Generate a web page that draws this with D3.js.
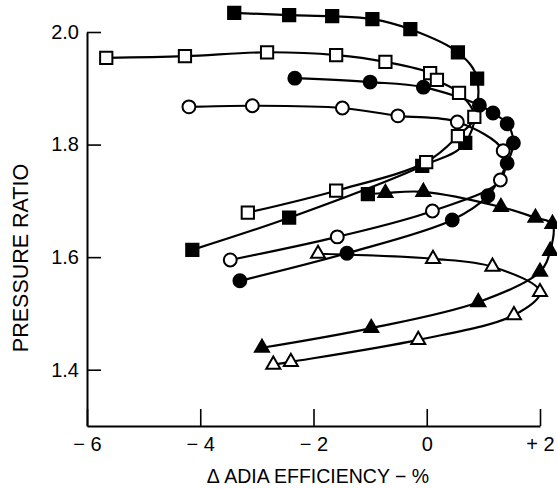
<!DOCTYPE html>
<html>
<head>
<meta charset="utf-8">
<script src="https://cdn.jsdelivr.net/npm/d3@7"></script>
<style>
  html, body { margin: 0; padding: 0; background: #fff; }
  svg { display: block; }
  text { font-family: "Liberation Sans", Arial, sans-serif; fill: #000; }
</style>
</head>
<body>
<svg id="chart" width="557" height="489"></svg>
<script>
// ---- Data (Δ adiabatic efficiency %, pressure ratio) ----
const xTicks = [-6, -4, -2, 0, 2];
const yTicks = [1.4, 1.6, 1.8, 2.0];

const filledSquareX = [-3.40, -2.43, -1.67, -0.96, -0.29, 0.55, 0.89, 0.68, -0.08, -2.43, -4.14];
const filledSquareY = [2.034, 2.030, 2.028, 2.023, 2.005, 1.964, 1.917, 1.803, 1.762, 1.670, 1.613];

const openSquareX = [-5.66, -4.27, -2.82, -1.60, -0.73, 0.06, 0.18, 0.57, 0.84, 0.55, -0.01, -1.60, -3.16];
const openSquareY = [1.954, 1.957, 1.964, 1.959, 1.947, 1.927, 1.915, 1.892, 1.849, 1.815, 1.769, 1.718, 1.679];

const filledCircleX = [-2.33, -1.00, -0.06, 0.93, 1.17, 1.42, 1.53, 1.42, 1.08, 0.45, -1.41, -3.30];
const filledCircleY = [1.918, 1.911, 1.902, 1.870, 1.856, 1.837, 1.803, 1.767, 1.709, 1.666, 1.607, 1.558];

const openCircleX = [-4.20, -3.08, -1.49, -0.51, 0.54, 1.35, 1.30, 0.10, -1.58, -3.47];
const openCircleY = [1.867, 1.869, 1.865, 1.851, 1.840, 1.789, 1.737, 1.682, 1.636, 1.595];

// first point of this curve is plotted with a filled square in the original
const filledTriangleX = [-1.04, -0.73, -0.06, 1.31, 1.92, 2.22, 2.18, 2.00, 0.91, -0.98, -2.91];
const filledTriangleY = [1.712, 1.714, 1.716, 1.689, 1.670, 1.659, 1.611, 1.574, 1.520, 1.474, 1.439];

const openTriangleX = [-1.92, 0.11, 1.16, 2.00, 1.54, -0.15, -2.40, -2.71];
const openTriangleY = [1.606, 1.597, 1.583, 1.538, 1.497, 1.453, 1.414, 1.409];

// ---- Layout ----
const svg = d3.select("#chart");
const x = d3.scaleLinear().domain([-6, 2]).range([87, 540]);
const y = d3.scaleLinear().domain([1.3, 2.0]).range([426, 32]);

const series = [
  { xs: filledSquareX, ys: filledSquareY, shape: "square", filled: true },
  { xs: openSquareX, ys: openSquareY, shape: "square", filled: false },
  { xs: filledCircleX, ys: filledCircleY, shape: "circle", filled: true },
  { xs: openCircleX, ys: openCircleY, shape: "circle", filled: false },
  { xs: filledTriangleX, ys: filledTriangleY, shape: "triangle", filled: true, firstShape: "square" },
  { xs: openTriangleX, ys: openTriangleY, shape: "triangle", filled: false }
];

// ---- Axes ----
const fmtX = d => d < 0 ? "\u2212 " + Math.abs(d) : (d > 0 ? "+ " + d : "0");

const gx = svg.append("g").attr("transform", `translate(0,${y(1.3)})`)
  .call(d3.axisBottom(x).tickValues(xTicks).tickSize(-17).tickSizeOuter(0).tickPadding(11).tickFormat(fmtX));
const gy = svg.append("g").attr("transform", `translate(${x(-6)},0)`)
  .call(d3.axisLeft(y).tickValues(yTicks).tickSize(-14).tickSizeOuter(0).tickPadding(8).tickFormat(d3.format(".1f")));

[gx, gy].forEach(g => {
  g.select(".domain").attr("stroke", "#000").attr("stroke-width", 2);
  g.selectAll(".tick line").attr("stroke", "#000").attr("stroke-width", 1.6);
  g.selectAll(".tick text").attr("font-size", 20).attr("fill", "#000")
    .style("font-family", "'Liberation Sans', Arial, sans-serif");
});

svg.append("text")
  .attr("transform", `translate(28,${258}) rotate(-90)`)
  .attr("text-anchor", "middle")
  .attr("font-size", 21.5)
  .text("PRESSURE RATIO");

svg.append("text")
  .attr("x", 318).attr("y", 483)
  .attr("text-anchor", "middle")
  .attr("font-size", 19.5)
  .text("\u0394 ADIA EFFICIENCY \u2212 %");

// ---- Lines ----
const line = d3.line().x(d => x(d[0])).y(d => y(d[1])).curve(d3.curveCatmullRom.alpha(0.5));

series.forEach(s => {
  const pts = s.xs.map((v, i) => [v, s.ys[i]]);
  svg.append("path").datum(pts)
    .attr("d", line)
    .attr("fill", "none")
    .attr("stroke", "#000")
    .attr("stroke-width", 2.2);
});

// ---- Markers ----
const symSize = { square: 150, circle: 130, triangle: 85 };
const symType = { square: d3.symbolSquare, circle: d3.symbolCircle, triangle: d3.symbolTriangle };

series.forEach(s => {
  const pts = s.xs.map((v, i) => ({ v, w: s.ys[i], shape: (i === 0 && s.firstShape) ? s.firstShape : s.shape }));
  svg.append("g").selectAll("path").data(pts).join("path")
    .attr("transform", d => `translate(${x(d.v)},${y(d.w)})`)
    .attr("d", d => d3.symbol().type(symType[d.shape]).size(symSize[d.shape])())
    .attr("fill", s.filled ? "#000" : "#fff")
    .attr("stroke", "#000")
    .attr("stroke-width", 2);
});
</script>
</body>
</html>
